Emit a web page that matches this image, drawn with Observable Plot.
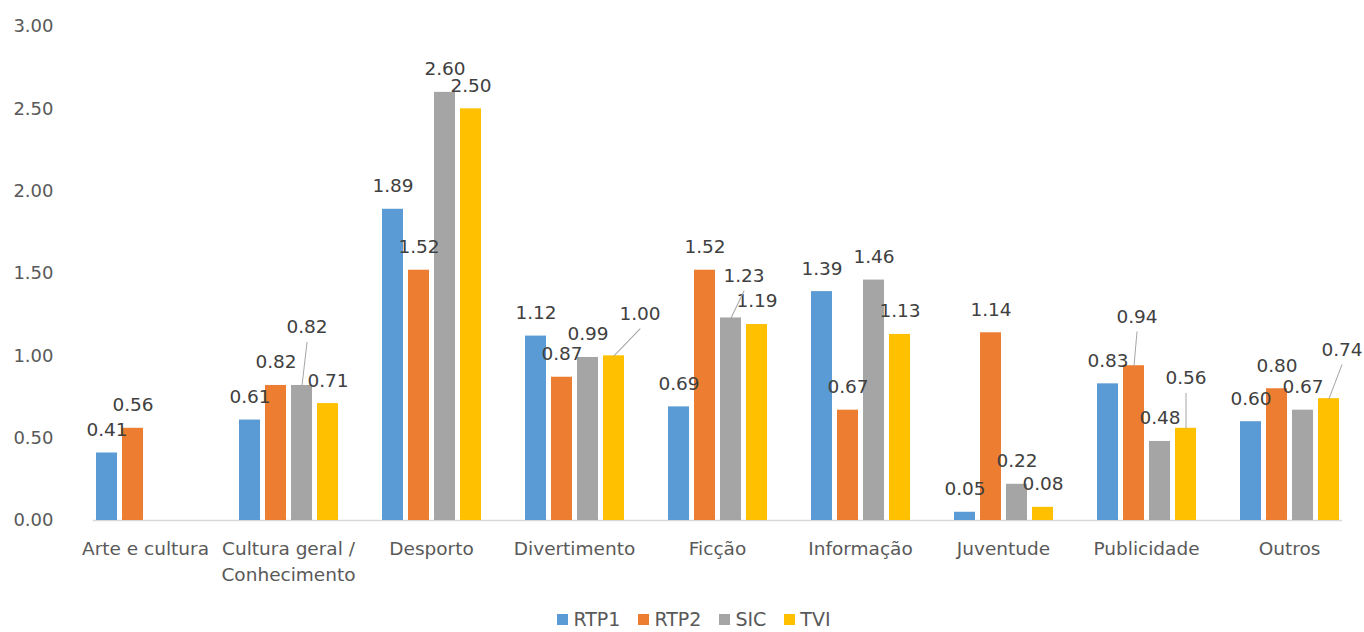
<!DOCTYPE html>
<html>
<head>
<meta charset="utf-8">
<script src="https://cdn.jsdelivr.net/npm/d3@7"></script>
<script src="https://cdn.jsdelivr.net/npm/@observablehq/plot@0.6"></script>
<style>
  body { margin: 0; background: #fff; font-family: "DejaVu Sans", sans-serif; }
  #chart svg { display: block; }
  #legend > div { display: flex !important; justify-content: center; align-items: center; font-family: "DejaVu Sans", sans-serif !important; font-size: 19px !important; line-height: 22px; color: #595959; margin: 0 !important; min-height: 24px !important; padding-left: 42px; }
  #legend span { margin-right: 18px !important; display: inline-flex; align-items: center; }
  #legend span > svg { margin-right: 5px !important; }
</style>
</head>
<body>
<div id="chart"></div>
<div id="legend"></div>
<script>
// ---- data ----
const categories = ["Arte e cultura", "Cultura geral / Conhecimento", "Desporto", "Divertimento", "Ficção", "Informação", "Juventude", "Publicidade", "Outros"];
const channels = ["RTP1", "RTP2", "SIC", "TVI"];
const rtp1 = [0.41, 0.61, 1.89, 1.12, 0.69, 1.39, 0.05, 0.83, 0.60];
const rtp2 = [0.56, 0.82, 1.52, 0.87, 1.52, 0.67, 1.14, 0.94, 0.80];
const sic  = [null, 0.82, 2.60, 0.99, 1.23, 1.46, 0.22, 0.48, 0.67];
const tvi  = [null, 0.71, 2.50, 1.00, 1.19, 1.13, 0.08, 0.56, 0.74];
const yTicks = [0, 0.5, 1, 1.5, 2, 2.5, 3];

// ---- styling config (not data) ----
const colors = ["#5b9bd5", "#ed7d31", "#a5a5a5", "#ffc000"];
// labels moved away from their bar (pixel nudges), with a leader line
const labelNudges = [
  {category: "Cultura geral / Conhecimento", channel: "SIC", dx: 5, dy: -35},
  {category: "Divertimento", channel: "TVI", dx: 26, dy: -19},
  {category: "Ficção", channel: "SIC", dx: 13, dy: -19},
  {category: "Publicidade", channel: "RTP2", dx: 3, dy: -26},
  {category: "Publicidade", channel: "TVI", dx: 0, dy: -27},
  {category: "Outros", channel: "TVI", dx: 13, dy: -26}
];

const series = [rtp1, rtp2, sic, tvi];
const rows = categories.flatMap((c, i) => channels.map((ch, j) => ({category: c, channel: ch, value: series[j][i]})))
  .filter(d => d.value != null);

const fmt = d3.format(".2f");
const isNudged = d => labelNudges.some(n => n.category === d.category && n.channel === d.channel);
const labelDy = -23;
const fs = 18.5;
const lineShape = { draw(context, l) { context.moveTo(0, 0); context.lineTo(0, -l); } };

const W = 1364, H = 607;
const baseY = 520;

const marks = [
  Plot.frame({anchor: "bottom", facet: "super", stroke: "#d9d9d9", strokeWidth: 1.5}),
  Plot.barY(rows, {fx: "category", x: "channel", y: "value", fill: "channel"}),
  Plot.text(rows.filter(d => !isNudged(d)), {
    fx: "category", x: "channel", y: "value", text: d => fmt(d.value),
    dy: labelDy, fill: "#404040", fontSize: fs
  })
];
for (const n of labelNudges) {
  const sel = rows.filter(d => d.category === n.category && d.channel === n.channel);
  marks.push(Plot.text(sel, {
    fx: "category", x: "channel", y: "value", text: d => fmt(d.value),
    dx: n.dx, dy: labelDy + n.dy, fill: "#404040", fontSize: fs
  }));
  const ex = n.dx, ey = n.dy - 8;
  marks.push(Plot.vector(sel, {
    fx: "category", x: "channel", y: "value",
    length: Math.hypot(ex, ey), rotate: Math.atan2(ex, -ey) * 180 / Math.PI,
    anchor: "start", shape: lineShape, stroke: "#a5a5a5", strokeWidth: 1
  }));
}
marks.push(
  Plot.axisY({ticks: yTicks, tickFormat: d3.format(".2f"), tickSize: 0, tickPadding: 40, fontSize: 18, fill: "#595959", label: null}),
  Plot.axisFx({anchor: "bottom", tickSize: 0, tickPadding: 16, fontSize: fs, fill: "#595959", label: null,
    lineHeight: 1.42, tickFormat: d => d.replace(" / ", " /\n")})
);

const chart = Plot.plot({
  width: W, height: H,
  marginLeft: 72, marginRight: 3, marginTop: 26, marginBottom: H - baseY,
  style: {fontFamily: "DejaVu Sans, sans-serif", fontSize: "18px", background: "#fff"},
  fx: {domain: categories, paddingInner: 0.273, paddingOuter: 0.137, label: null},
  x: {domain: channels, paddingInner: 0.21, paddingOuter: 0.105, axis: null},
  y: {domain: [0, 3], axis: null},
  color: {domain: channels, range: colors},
  marks
});
document.getElementById("chart").appendChild(chart);

document.getElementById("legend").appendChild(
  Plot.legend({color: {domain: channels, range: colors}, legend: "swatches", swatchSize: 11})
);
</script>
</body>
</html>
